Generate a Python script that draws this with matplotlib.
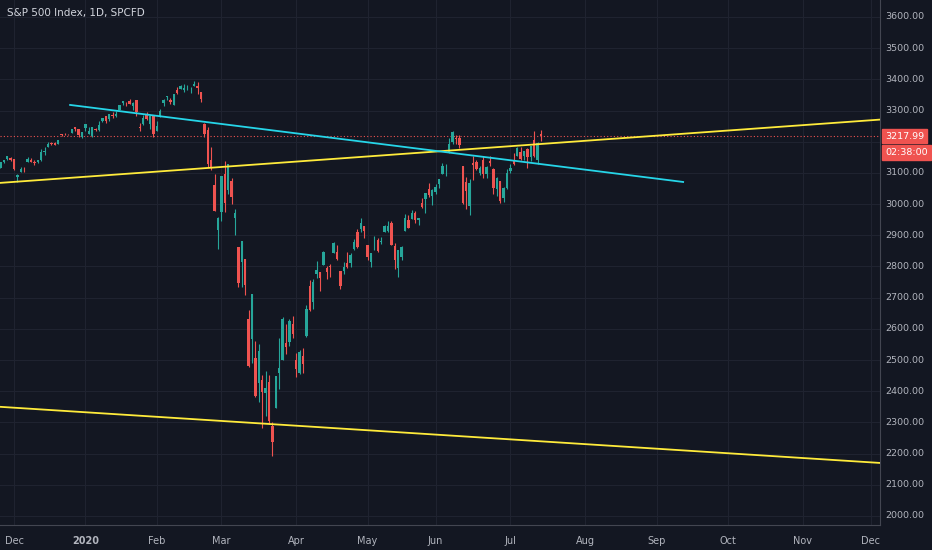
import numpy as np
import pandas as pd
import matplotlib
matplotlib.use("Agg")
import matplotlib.pyplot as plt

# daily S&P 500 bars, 2019-11-25 .. 2020-07-15
opens = [3117, 3134, 3145, 3147,
         3144, 3087, 3103, 3119, 3134, 3141, 3135, 3135, 3141, 3166, 3183, 3195, 3195, 3192, 3224, 3226, 3225, 3227, 3247, 3240, 3216,
         3245, 3226, 3218, 3242, 3238, 3267, 3281, 3272, 3286, 3282, 3302, 3324, 3321, 3331, 3316, 3334, 3248, 3256, 3289, 3256, 3282,
         3235, 3280, 3324, 3344, 3335, 3319, 3366, 3370, 3365, 3378, 3369, 3380, 3380, 3360, 3257, 3238, 3140, 3062, 2916,
         2974, 3096, 3045, 3075, 2954, 2863, 2813, 2825, 2630, 2569, 2508, 2425, 2437, 2393, 2431, 2290, 2345, 2457, 2501, 2556, 2558, 2614,
         2499, 2459, 2514, 2578, 2738, 2686, 2776, 2782, 2805, 2795, 2800, 2842, 2846, 2784, 2787, 2810, 2812, 2855, 2909, 2919, 2930,
         2869, 2815, 2868, 2884, 2879, 2909, 2915, 2939, 2865, 2794, 2829, 2913, 2948, 2953, 2970, 2948, 3005, 3015, 3047, 3025,
         3038, 3064, 3098, 3112, 3163, 3199, 3213, 3213, 3123, 3071, 2993, 3131, 3136, 3101, 3141, 3095, 3138, 3114, 3047, 3073, 3018, 3051,
         3105, 3143, 3155, 3166, 3154, 3177, 3152, 3205, 3141, 3225]
highs = [3134, 3142, 3154, 3150,
         3144, 3095, 3120, 3120, 3150, 3149, 3143, 3143, 3176, 3182, 3198, 3198, 3199, 3206, 3226, 3228, 3226, 3240, 3248, 3240, 3231,
         3258, 3247, 3247, 3245, 3268, 3275, 3283, 3288, 3295, 3298, 3317, 3330, 3329, 3338, 3327, 3334, 3259, 3286, 3294, 3286, 3282,
         3268, 3306, 3337, 3347, 3341, 3352, 3375, 3381, 3385, 3381, 3375, 3394, 3392, 3360, 3259, 3246, 3182, 3098, 2960,
         3091, 3137, 3130, 3084, 2985, 2863, 2882, 2825, 2660, 2711, 2562, 2553, 2453, 2466, 2453, 2300, 2449, 2571, 2637, 2615, 2631, 2641,
         2522, 2533, 2539, 2676, 2756, 2760, 2818, 2782, 2851, 2801, 2807, 2880, 2868, 2785, 2815, 2845, 2842, 2888, 2921, 2954, 2930,
         2869, 2844, 2898, 2891, 2893, 2932, 2945, 2945, 2874, 2853, 2865, 2968, 2964, 2980, 2978, 2957, 3021, 3036, 3068, 3050,
         3063, 3081, 3131, 3128, 3212, 3233, 3223, 3223, 3123, 3088, 3079, 3154, 3141, 3121, 3155, 3121, 3155, 3116, 3086, 3074, 3054, 3111,
         3128, 3165, 3183, 3184, 3171, 3179, 3187, 3236, 3200, 3238]
lows = [3117, 3131, 3143, 3139,
        3110, 3070, 3102, 3104, 3134, 3135, 3125, 3133, 3138, 3156, 3183, 3191, 3191, 3192, 3217, 3221, 3220, 3227, 3235, 3216, 3213,
        3236, 3226, 3214, 3233, 3236, 3264, 3261, 3268, 3277, 3280, 3302, 3318, 3316, 3320, 3302, 3281, 3234, 3253, 3271, 3242, 3214,
        3236, 3280, 3313, 3334, 3322, 3317, 3352, 3369, 3360, 3367, 3356, 3379, 3354, 3328, 3214, 3118, 3108, 2977, 2855,
        2945, 2976, 3034, 2999, 2901, 2734, 2734, 2707, 2478, 2492, 2380, 2367, 2281, 2319, 2295, 2192, 2345, 2407, 2500, 2520, 2545, 2572,
        2447, 2455, 2459, 2574, 2657, 2664, 2762, 2721, 2805, 2761, 2765, 2842, 2821, 2727, 2775, 2794, 2797, 2852, 2860, 2912, 2892,
        2822, 2798, 2852, 2848, 2871, 2909, 2912, 2869, 2793, 2766, 2821, 2913, 2922, 2953, 2939, 2934, 2988, 2970, 3024, 2998,
        3032, 3052, 3098, 3091, 3163, 3193, 3193, 3181, 2999, 2984, 2965, 3077, 3109, 3094, 3083, 3083, 3123, 3032, 3025, 3005, 3008, 3047,
        3101, 3124, 3155, 3142, 3142, 3116, 3137, 3150, 3128, 3201]
closes = [3133.6, 3140.5, 3153.6, 3141.0,
          3113.9, 3093.2, 3112.8, 3117.4, 3145.9, 3136.0, 3132.5, 3141.6, 3168.6, 3168.8, 3191.5, 3192.5, 3191.1, 3205.4, 3221.2, 3224.0, 3223.4, 3239.9, 3240.0, 3221.3, 3230.8,
          3257.9, 3234.9, 3246.3, 3237.2, 3253.1, 3274.7, 3265.4, 3288.1, 3283.2, 3289.3, 3316.8, 3329.6, 3320.8, 3321.8, 3325.5, 3295.5, 3243.6, 3276.2, 3273.4, 3283.7, 3225.5,
          3248.9, 3297.6, 3334.7, 3345.8, 3327.7, 3352.1, 3357.8, 3379.5, 3373.9, 3380.2, 3370.3, 3386.2, 3373.2, 3337.8, 3225.9, 3128.2, 3116.4, 2978.8, 2954.2,
          3090.2, 3003.4, 3130.1, 3023.9, 2972.4, 2746.6, 2882.2, 2741.4, 2480.6, 2711.0, 2386.1, 2529.2, 2398.1, 2409.4, 2304.9, 2237.4, 2447.3, 2475.6, 2630.1, 2541.5, 2626.7, 2584.6,
          2470.5, 2526.9, 2488.7, 2663.7, 2659.4, 2750.0, 2789.8, 2761.6, 2846.1, 2783.4, 2799.6, 2874.6, 2823.2, 2736.6, 2799.3, 2797.8, 2836.7, 2878.5, 2863.4, 2939.5, 2912.4,
          2830.7, 2842.7, 2868.4, 2848.4, 2881.2, 2929.8, 2930.3, 2870.1, 2820.0, 2852.5, 2863.7, 2953.9, 2922.9, 2971.6, 2948.5, 2955.5, 2991.8, 3036.1, 3029.7, 3044.3,
          3055.7, 3080.8, 3122.9, 3112.4, 3193.9, 3232.4, 3207.2, 3190.1, 3002.1, 3041.3, 3066.6, 3124.7, 3113.5, 3115.3, 3097.7, 3117.9, 3131.3, 3050.3, 3083.8, 3009.1, 3053.2, 3100.3,
          3115.9, 3130.0, 3179.7, 3145.3, 3169.9, 3152.1, 3185.0, 3155.2, 3197.5, 3218.0]
last_price = 3217.99

# drawn trend lines (bar index, price)
upper_line = [(-0.12, 3068), (258.7, 3271)]
cyan_line = [(20.5, 3318), (200.8, 3071)]
lower_line = [(-0.12, 2350), (258.7, 2170)]

holidays = ["2019-11-28", "2019-12-25", "2020-01-01", "2020-01-20", "2020-02-17", "2020-04-10",
            "2020-05-25", "2020-07-03", "2020-09-07", "2020-11-26", "2020-12-25"]
days = pd.bdate_range("2019-11-25", "2020-12-31")
days = days[~days.isin(pd.to_datetime(holidays))]

BG = "#131722"
GRID = "#1f2330"
TXT = "#b2b5be"
UP = "#26a69a"
DN = "#ef5350"
YMIN, YMAX = 1971, 3654.5

fig = plt.figure(figsize=(9.32, 5.5), dpi=100, facecolor=BG)
ax = fig.add_axes([0, 25 / 550, 880 / 932, 525 / 550], facecolor=BG)

o, h, l, c = map(np.array, (opens, highs, lows, closes))
x = np.arange(len(c))
col = np.where(c >= o, UP, DN)
ax.vlines(x, l, h, colors=col, linewidth=0.8, zorder=3)
body = np.maximum(np.abs(c - o), 1.5)
ax.bar(x, body, bottom=np.minimum(o, c), width=0.72, color=col, zorder=4)

for line, cl in ((upper_line, "#ffeb3b"), (cyan_line, "#26d5e8"), (lower_line, "#ffeb3b")):
    (x0, y0), (x1, y1) = line
    ax.plot([x0, x1], [y0, y1], color=cl, lw=1.3, zorder=5)

ax.axhline(last_price, color=DN, lw=0.8, ls=(0, (1, 2)), zorder=2)

ax.set_xlim(-0.12, 258.7)
ax.set_ylim(YMIN, YMAX)

months = pd.Series(days).groupby([days.year, days.month]).head(1)
tick_idx = [days.get_loc(d) for d in months if d > pd.Timestamp("2019-11-30")]
tick_lab = ["2020" if days[i].month == 1 else days[i].strftime("%b") for i in tick_idx]
ax.set_xticks(tick_idx)
ax.set_xticklabels(tick_lab)
ax.set_yticks(np.arange(2000, 3601, 100))
ax.set_yticklabels([])
for yv in np.arange(2000, 3601, 100):
    if abs(yv - last_price) < 40:
        continue  # hidden behind the price box
    ax.text(1.006, (yv - YMIN) / (YMAX - YMIN), f"{yv:.2f}", transform=ax.transAxes,
            color=TXT, fontsize=6.8, va="center", ha="left")
ax.tick_params(axis="x", colors=TXT, labelsize=7, length=0, pad=8)
ax.tick_params(axis="y", length=0)
for lab in ax.get_xticklabels():
    if lab.get_text() == "2020":
        lab.set_fontweight("bold")
ax.grid(True, color=GRID, lw=0.8, zorder=0)
for s in ("top", "left"):
    ax.spines[s].set_visible(False)
ax.spines["right"].set_color("#434651")
ax.spines["bottom"].set_color("#434651")

ypos = (last_price - YMIN) / (YMAX - YMIN)
box = dict(boxstyle="square,pad=0.3", fc=DN, ec=DN)
ax.text(1.006, ypos, f"{last_price:.2f}", transform=ax.transAxes, color="white", fontsize=6.8,
        va="center", ha="left", bbox=box, zorder=10)
ax.text(1.006, ypos - 0.031, "02:38:00", transform=ax.transAxes, color="white", fontsize=6.8,
        va="center", ha="left", bbox=box, zorder=10)

fig.text(7 / 932, 1 - 13 / 550, "S&P 500 Index, 1D, SPCFD", color="#d1d4dc", fontsize=7.5,
         va="center", ha="left")

fig.savefig("out.png", dpi=100, facecolor=BG)
